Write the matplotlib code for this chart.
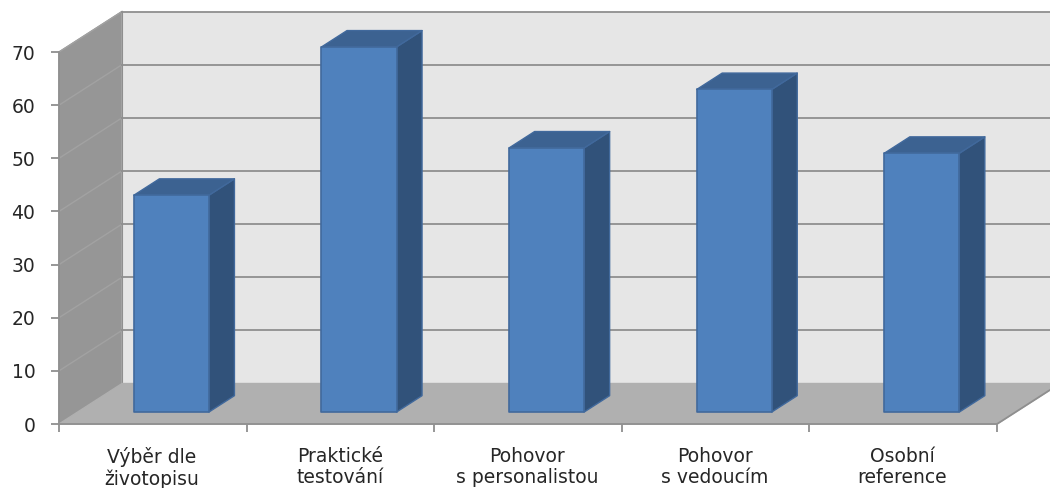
import matplotlib
matplotlib.use("Agg")
import matplotlib.pyplot as plt
from matplotlib.patches import Polygon

# Chart data
categories = [
    "Výběr dle\nživotopisu",
    "Praktické\ntestování",
    "Pohovor\ns personalistou",
    "Pohovor\ns vedoucím",
    "Osobní\nreference",
]
values = [40.8, 68.7, 49.7, 60.7, 48.7]
yticks = [0, 10, 20, 30, 40, 50, 60, 70]

# Colours
wall_side = "#969696"
wall_back = "#e6e6e6"
floor = "#b0b0b0"
grid = "#8f8f8f"
grid_side = "#a2a2a2"
bar_front = "#4f81bd"
bar_top = "#3c6291"
bar_side = "#31527a"
bar_edge = "#41699c"

# Oblique projection: how far one full unit of depth shifts things, in data units
depth_dx = 0.336
depth_dy = 7.62
bar_width = 0.40
bar_near = 0.295
bar_far = 0.70


def proj(x, y, d):
    return (x + d * depth_dx, y + d * depth_dy)


fig = plt.figure(figsize=(10.5, 4.88), dpi=100)
ax = fig.add_axes([59 / 1050, 64 / 488, 938 / 1050, 372 / 488])
ax.set_xlim(0, len(categories))
ax.set_ylim(yticks[0], yticks[-1])
ax.patch.set_visible(False)
for s in ax.spines.values():
    s.set_visible(False)


def face(pts, color, edge=None, z=1, lw=1.0):
    ax.add_patch(Polygon(pts, closed=True, facecolor=color, edgecolor=edge or color,
                         linewidth=lw, zorder=z, clip_on=False, joinstyle="round"))


n = len(categories)
ymax = yticks[-1]

# Walls and floor
face([proj(0, 0, 0), proj(0, 0, 1), proj(0, ymax, 1), proj(0, ymax, 0)], wall_side, z=1)
face([proj(0, 0, 1), proj(n, 0, 1), proj(n, ymax, 1), proj(0, ymax, 1)], wall_back, z=1)

# Gridlines run along the side wall and then the back wall
for t in yticks[1:]:
    ax.plot(*zip(proj(0, t, 0), proj(0, t, 1)), color=grid_side, lw=1.0, zorder=2, clip_on=False)
    ax.plot(*zip(proj(0, t, 1), proj(n, t, 1)), color=grid, lw=1.3, zorder=2, clip_on=False)
ax.plot(*zip(proj(0, 0, 1), proj(0, ymax, 1)), color=grid, lw=0.8, zorder=2, clip_on=False)
ax.plot(*zip(proj(0, 0, 0), proj(0, ymax, 0)), color=grid, lw=1.2, zorder=2, clip_on=False)

face([proj(0, 0, 0), proj(n, 0, 0), proj(n, 0, 1), proj(0, 0, 1)], floor, z=3)
ax.plot(*zip(proj(0, 0, 0), proj(n, 0, 0), proj(n, 0, 1)),
        color=grid, lw=1.3, zorder=4, clip_on=False)

# Bars
for i, v in enumerate(values):
    x0 = i + 0.5 - bar_width / 2
    x1 = i + 0.5 + bar_width / 2
    face([proj(x1, 0, bar_near), proj(x1, 0, bar_far), proj(x1, v, bar_far), proj(x1, v, bar_near)],
         bar_side, bar_edge, z=5)
    face([proj(x0, v, bar_near), proj(x1, v, bar_near), proj(x1, v, bar_far), proj(x0, v, bar_far)],
         bar_top, bar_edge, z=5)
    face([proj(x0, 0, bar_near), proj(x1, 0, bar_near), proj(x1, v, bar_near), proj(x0, v, bar_near)],
         bar_front, bar_edge, z=6, lw=1.2)

# Axes ticks and labels
ax.set_yticks(yticks)
ax.set_xticks(range(n + 1))
ax.set_xticklabels([])
ax.tick_params(axis="both", color=grid, width=1.3, length=5.5, labelcolor="#262626")
ax.tick_params(axis="y", labelsize=13.5, pad=11.5)
for i, c in enumerate(categories):
    ax.annotate(c, (i + 0.5, 0), xytext=(-0.5, -16.5), textcoords="offset points",
                ha="center", va="top", fontsize=13.5, color="#262626", linespacing=1.15,
                annotation_clip=False)

fig.savefig("out.png", dpi=100)
